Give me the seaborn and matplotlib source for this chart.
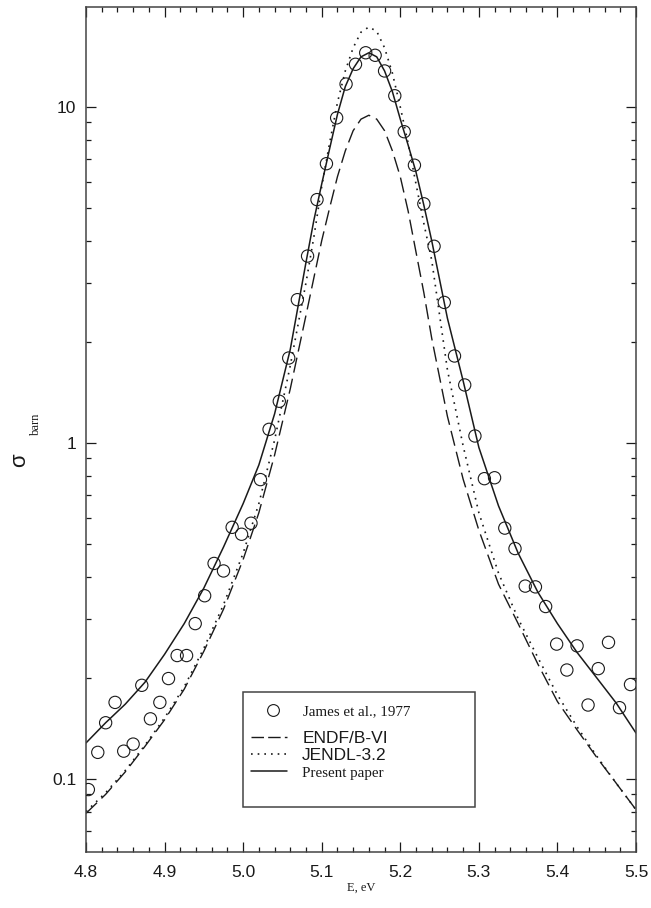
import numpy as np
import pandas as pd
import matplotlib
matplotlib.use("Agg")
import matplotlib.pyplot as plt
import seaborn as sns
from matplotlib.lines import Line2D
from matplotlib.patches import Rectangle
from matplotlib.ticker import MultipleLocator, FixedLocator, FixedFormatter, LogLocator, NullFormatter

# ---------------- data ----------------
exp_e = [4.803, 4.815, 4.825, 4.837, 4.848, 4.860, 4.871, 4.882, 4.894, 4.905,
         4.916, 4.928, 4.939, 4.951, 4.963, 4.975, 4.986, 4.998, 5.010, 5.022,
         5.033, 5.046, 5.058, 5.069, 5.082, 5.094, 5.106, 5.119, 5.131, 5.143,
         5.156, 5.168, 5.180, 5.193, 5.205, 5.218, 5.230, 5.243, 5.256, 5.269,
         5.282, 5.295, 5.307, 5.320, 5.333, 5.346, 5.359, 5.372, 5.385, 5.399,
         5.412, 5.425, 5.439, 5.452, 5.465, 5.479, 5.493]
exp_sigma = [0.093, 0.120, 0.147, 0.169, 0.121, 0.127, 0.190, 0.151, 0.169, 0.199,
             0.233, 0.233, 0.290, 0.351, 0.438, 0.416, 0.561, 0.535, 0.577, 0.778,
             1.098, 1.331, 1.79, 2.67, 3.60, 5.30, 6.78, 9.28, 11.7, 13.4,
             14.5, 14.25, 12.8, 10.8, 8.44, 6.71, 5.15, 3.85, 2.62, 1.815,
             1.488, 1.049, 0.783, 0.788, 0.558, 0.485, 0.375, 0.373, 0.326, 0.252,
             0.211, 0.249, 0.166, 0.213, 0.255, 0.163, 0.191]

curve_e = [4.80, 4.825, 4.85, 4.875, 4.90, 4.925, 4.95, 4.975, 5.00, 5.02,
           5.04, 5.06, 5.08, 5.09, 5.10, 5.11, 5.12, 5.13, 5.14, 5.15,
           5.16, 5.17, 5.18, 5.19, 5.20, 5.21, 5.22, 5.23, 5.24, 5.26,
           5.28, 5.30, 5.325, 5.35, 5.375, 5.40, 5.425, 5.45, 5.475, 5.50]
present_sigma = [0.128, 0.147, 0.167, 0.194, 0.235, 0.29, 0.37, 0.49, 0.66, 0.86,
                 1.22, 1.9, 3.45, 4.6, 5.9, 7.5, 9.5, 11.5, 13.0, 14.1,
                 14.5, 14.1, 12.8, 11.1, 9.2, 7.7, 6.4, 5.1, 4.0, 2.35,
                 1.53, 0.97, 0.65, 0.47, 0.36, 0.29, 0.238, 0.20, 0.168, 0.137]
endf_sigma = [0.079, 0.090, 0.105, 0.125, 0.150, 0.185, 0.24, 0.32, 0.45, 0.62,
              0.92, 1.45, 2.4, 3.1, 4.0, 5.0, 6.2, 7.4, 8.5, 9.2,
              9.45, 9.2, 8.5, 7.4, 6.2, 4.9, 3.7, 2.8, 2.05, 1.2,
              0.78, 0.55, 0.38, 0.29, 0.22, 0.17, 0.14, 0.116, 0.097, 0.081]
jendl_sigma = [0.080, 0.091, 0.106, 0.126, 0.152, 0.188, 0.245, 0.33, 0.47, 0.66,
               1.02, 1.7, 3.0, 4.1, 5.8, 7.8, 10.3, 12.8, 15.0, 16.7,
               17.3, 16.8, 15.0, 12.6, 10.0, 7.8, 5.9, 4.5, 3.5, 1.65,
               0.98, 0.62, 0.41, 0.30, 0.23, 0.178, 0.143, 0.117, 0.097, 0.081]

legend_labels = ["James et al., 1977", "ENDF/B-VI", "JENDL-3.2", "Present paper"]
y_tick_values = [0.1, 1, 10]
y_tick_labels = ["0.1", "1", "10"]
x_tick_values = [4.8, 4.9, 5.0, 5.1, 5.2, 5.3, 5.4, 5.5]
x_tick_labels = ["4.8", "4.9", "5.0", "5.1", "5.2", "5.3", "5.4", "5.5"]

exp_df = pd.DataFrame({"E": exp_e, "sigma": exp_sigma})
curve_df = pd.DataFrame({"E": curve_e, "present": present_sigma,
                         "endf": endf_sigma, "jendl": jendl_sigma})

# ---------------- style ----------------
sns.set_theme(style="ticks")
plt.rcParams['font.family'] = ['Liberation Sans', 'DejaVu Sans']
INK = "#1a1a1a"
SERIF = ['Liberation Serif', 'DejaVu Serif']

W, H = 651, 908
fig = plt.figure(figsize=(W / 100, H / 100), dpi=100)
fig.patch.set_facecolor("white")
ax = fig.add_axes([86 / W, 1 - 852.3 / H, (636 - 86) / W, (852.3 - 7.3) / H])
ax.set_facecolor("white")

dash_style = (0, (11, 4.5))
dot_style = (0, (1.0, 3.2))

sns.lineplot(data=curve_df, x="E", y="endf", ax=ax, color=INK, lw=1.0,
             linestyle=dash_style, sort=True, estimator=None)
sns.lineplot(data=curve_df, x="E", y="jendl", ax=ax, color=INK, lw=1.2,
             linestyle=dot_style, sort=True, estimator=None)
sns.lineplot(data=curve_df, x="E", y="present", ax=ax, color=INK, lw=1.1,
             sort=True, estimator=None)
sns.scatterplot(data=exp_df, x="E", y="sigma", ax=ax, marker="o", s=78,
                facecolor="none", edgecolor=INK, linewidth=0.8, zorder=5)

ax.set_yscale("log")
ax.set_xlim(4.8, 5.5)
ax.set_ylim(0.0605, 19.8)

ax.xaxis.set_major_locator(FixedLocator(x_tick_values))
ax.xaxis.set_major_formatter(FixedFormatter(x_tick_labels))
ax.xaxis.set_minor_locator(MultipleLocator(0.02))
ax.yaxis.set_major_locator(FixedLocator(y_tick_values))
ax.yaxis.set_major_formatter(FixedFormatter(y_tick_labels))
ax.yaxis.set_minor_locator(LogLocator(base=10, subs=np.arange(2, 10)))
ax.yaxis.set_minor_formatter(NullFormatter())

ax.tick_params(which="both", direction="in", top=True, right=True,
               colors=INK, width=0.9, labelsize=12.5)
ax.tick_params(which="major", length=7)
ax.tick_params(which="minor", length=3.8)
ax.tick_params(axis="x", which="major", pad=9)
ax.tick_params(axis="y", which="major", pad=7)
for s in ax.spines.values():
    s.set_color("#444444")
    s.set_linewidth(1.1)

ax.set_xlabel("")
ax.set_ylabel("")
fig.text(361 / W, 1 - 888 / H, "E, eV", ha="center", va="center",
         family=SERIF, fontsize=9, color=INK)
fig.text(20 / W, 1 - 460 / H, "σ", ha="center", va="center", rotation=90,
         fontsize=16, color=INK)
fig.text(36 / W, 1 - 424 / H, "barn", ha="center", va="center", rotation=90,
         family=SERIF, fontsize=9, color=INK)

# ---------------- legend ----------------
h_exp = Line2D([], [], linestyle="none", marker="o", markersize=8.5,
               markerfacecolor="none", markeredgecolor=INK, markeredgewidth=0.8)
h_lines = [
    Line2D([], [], color=INK, lw=1.0, linestyle=(0, (9, 3))),
    Line2D([], [], color=INK, lw=1.2, linestyle=(0, (1.0, 3.0))),
    Line2D([], [], color=INK, lw=1.1),
]
common = dict(loc="upper left", bbox_transform=fig.transFigure, frameon=False,
              borderpad=0, borderaxespad=0)
leg1 = ax.legend([h_exp], legend_labels[:1], bbox_to_anchor=(256 / W, 1 - 705 / H),
                 prop={"family": SERIF, "size": 10.8}, handlelength=2.3,
                 handletextpad=0.83, **common)
for t in leg1.get_texts():
    t.set_color(INK)
ax.add_artist(leg1)
leg2 = ax.legend(h_lines, legend_labels[1:], bbox_to_anchor=(251 / W, 1 - 731 / H),
                 labelspacing=0.11, fontsize=12.5, handlelength=2.1,
                 handletextpad=0.85, **common)
for i, t in enumerate(leg2.get_texts()):
    t.set_color(INK)
    if i == 2:
        t.set_family(SERIF)
        t.set_fontsize(10.8)
fig.patches.append(Rectangle((243 / W, 1 - 807 / H), 232 / W, 115 / H,
                             transform=fig.transFigure, fill=False,
                             edgecolor="#444444", lw=1.1))

fig.savefig("out.png", dpi=100, facecolor="white")
